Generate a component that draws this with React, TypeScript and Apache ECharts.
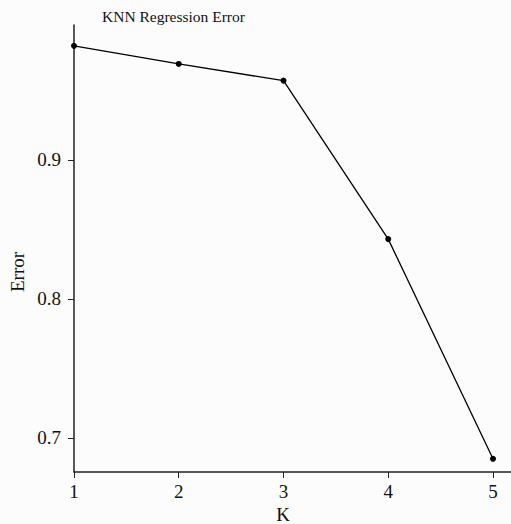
import React, { useEffect, useRef } from "react";
import * as echarts from "echarts";

const kValues = [1, 2, 3, 4, 5];
const errors = [0.982, 0.969, 0.957, 0.843, 0.685];
const yTicks = [0.7, 0.8, 0.9];
const xTicks = [1, 2, 3, 4, 5];

export default function App() {
  const ref = useRef<HTMLDivElement>(null);
  useEffect(() => {
    if (!ref.current) return;
    const chart = echarts.init(ref.current, null, { renderer: "svg" });
    const font = "Liberation Serif";
    chart.setOption({
      animation: false,
      backgroundColor: "#fcfcfc",
      textStyle: { fontFamily: font },
      grid: { left: 74, top: 25, right: 0, bottom: 52 },
      xAxis: {
        type: "value",
        min: 1,
        max: 5.172,
        splitLine: { show: false },
        axisLine: { lineStyle: { color: "#222", width: 1.5 } },
        axisTick: { show: true, customValues: xTicks, length: 6, lineStyle: { color: "#222" } },
        axisLabel: { customValues: xTicks, fontSize: 19, color: "#111", margin: 10, fontFamily: font },
      },
      yAxis: {
        type: "value",
        min: 0.6755,
        max: 0.997,
        splitLine: { show: false },
        axisLine: { show: true, lineStyle: { color: "#222", width: 1.5 } },
        axisTick: { show: true, customValues: yTicks, length: 6, lineStyle: { color: "#222" } },
        axisLabel: {
          customValues: yTicks,
          fontSize: 19,
          color: "#111",
          margin: 13,
          fontFamily: font,
          formatter: (v: number) => v.toFixed(1),
        },
      },
      series: [
        {
          type: "line",
          data: kValues.map((k, i) => [k, errors[i]]),
          symbol: "circle",
          symbolSize: 6,
          lineStyle: { color: "#000", width: 1.3 },
          itemStyle: { color: "#000" },
        },
      ],
      graphic: [
        {
          type: "text",
          left: 102,
          top: 8,
          style: { text: "KNN Regression Error", fontSize: 15.5, fontFamily: font, fill: "#111" },
        },
        {
          type: "text",
          x: 283,
          y: 514,
          style: { text: "K", fontSize: 19, fontFamily: font, fill: "#111", align: "center", verticalAlign: "middle" },
        },
        {
          type: "text",
          x: 17,
          y: 272,
          rotation: Math.PI / 2,
          style: { text: "Error", fontSize: 19, fontFamily: font, fill: "#111", align: "center", verticalAlign: "middle" },
        },
      ],
    });
    return () => chart.dispose();
  }, []);
  return (
    <div
      ref={ref}
      style={{ position: "absolute", left: 0, top: 0, width: 511, height: 524 }}
    />
  );
}
